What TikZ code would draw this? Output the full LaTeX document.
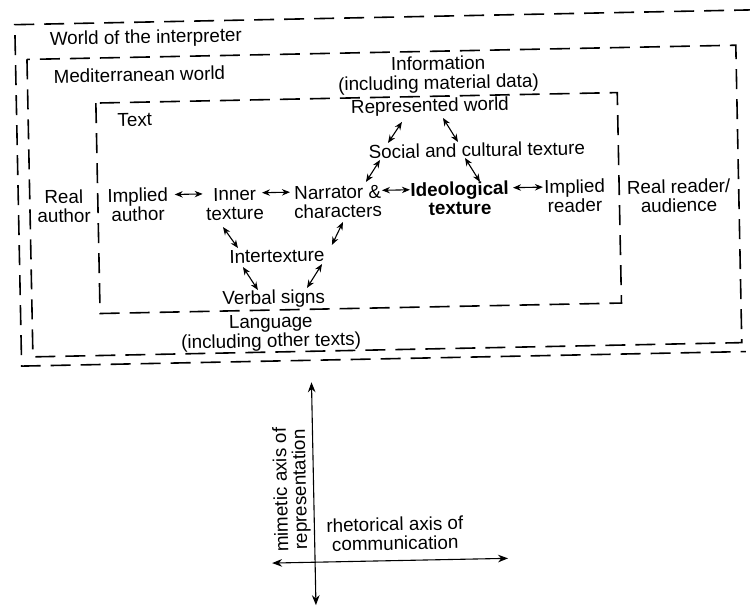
\documentclass[tikz,border=0pt]{standalone}
\usepackage{fontspec}
\setmainfont{Liberation Sans}
\usetikzlibrary{arrows.meta}
\begin{document}
\begin{tikzpicture}[x=0.5pt,y=-0.5pt,
  lbl/.style={font=\fontsize{9.4}{9.5}\selectfont, inner sep=0pt, align=center},
  frame/.style={line width=0.8pt, dash pattern=on 10pt off 5pt},
  arr/.style={line width=0.55pt, {Stealth[length=4pt,width=3.2pt]}-{Stealth[length=4pt,width=3.2pt]}},
  axis/.style={line width=0.55pt, {Stealth[length=5pt,width=3.8pt]}-{Stealth[length=5pt,width=3.8pt]}}]
\fill[white] (0,0) rectangle (750,614);
\useasboundingbox (0,0) rectangle (750,614);
\begin{scope}[rotate around={1.15:(375,307)}, transform shape]
% frames
\draw[frame] (760,17.5) -- (20.5,17.5) -- (20.5,359) -- (745,359);
\draw[frame] (32,52.5) rectangle (741,350);
\draw[frame] (100,97.5) rectangle (621.5,308);
% labels
\node[lbl, anchor=west] (wlab) at (55,34) {World of the interpreter};
\node[lbl, anchor=west] (mlab) at (58,70) {Mediterranean world};
\node[lbl, anchor=west] (tlab) at (121,115) {Text};
\node[lbl] (info) at (443,76) {Information\\(including material data)};
\node[lbl] (rw) at (434,108) {Represented world};
\node[lbl] (sc) at (480,152) {Social and cultural texture};
\node[lbl] (ra) at (66,200) {Real\\author};
\node[lbl] (ia) at (140,200) {Implied\\author};
\node[lbl] (it) at (237,201) {Inner\\texture};
\node[lbl] (nc) at (340,201) {Narrator \&\\characters};
\node[lbl, font=\fontsize{9.4}{9.5}\selectfont\bfseries] (ideo) at (462,200) {Ideological\\texture};
\node[lbl] (ir) at (577,200) {Implied\\reader};
\node[lbl] (rr) at (681,202) {Real reader/\\audience};
\node[lbl] (inter) at (278,254) {Intertexture};
\node[lbl] (vs) at (274,297) {Verbal signs};
\node[lbl] (lang) at (270.5,331) {Language\\(including other texts)};
\node[lbl, rotate=90] (mim) at (288,488) {mimetic axis of\\representation};
\node[lbl] (rhet) at (390.5,534) {rhetorical axis of\\communication};
% horizontal connectors
\draw[arr] ([shift={(37,-9.5)}]ia.center) -- ([shift={(-32,-10.5)}]it.center);
\draw[arr] ([shift={(27.3,-10.5)}]it.center) -- ([shift={(-47.7,-10.5)}]nc.center);
\draw[arr] ([shift={(44.3,-10.5)}]nc.center) -- ([shift={(-49.7,-9.5)}]ideo.center);
\draw[arr] ([shift={(53.4,-9.5)}]ideo.center) -- ([shift={(-31.6,-9.5)}]ir.center);
% diagonal connectors
\draw[arr] ([shift={(-28.3,14.5)}]rw.center) -- ([shift={(-88.7,-8.7)}]sc.center);
\draw[arr] ([shift={(12.8,11.4)}]rw.center) -- ([shift={(-18.7,-8.3)}]sc.center);
\draw[arr] ([shift={(-97,8.1)}]sc.center) -- ([shift={(28.5,-19.2)}]nc.center);
\draw[arr] ([shift={(-12,7.8)}]sc.center) -- ([shift={(20.5,-16)}]ideo.center);
\draw[arr] ([shift={(-12.4,23)}]it.center) -- ([shift={(-38.8,-8.7)}]inter.center);
\draw[arr] ([shift={(4.7,20.4)}]nc.center) -- ([shift={(55.2,-9.9)}]inter.center);
\draw[arr] ([shift={(-34.2,10.4)}]inter.center) -- ([shift={(-15.7,-9.3)}]vs.center);
\draw[arr] ([shift={(44.9,9)}]inter.center) -- ([shift={(33.4,-10.4)}]vs.center);
% axes
\coordinate (vt) at (310,381);
\coordinate (vb) at (310,604);
\coordinate (hl) at (267,561);
\coordinate (hr) at (503,561);
\draw[axis] (vt) -- (vb);
\draw[axis] (hl) -- (hr);
\end{scope}
\end{tikzpicture}
\end{document}
